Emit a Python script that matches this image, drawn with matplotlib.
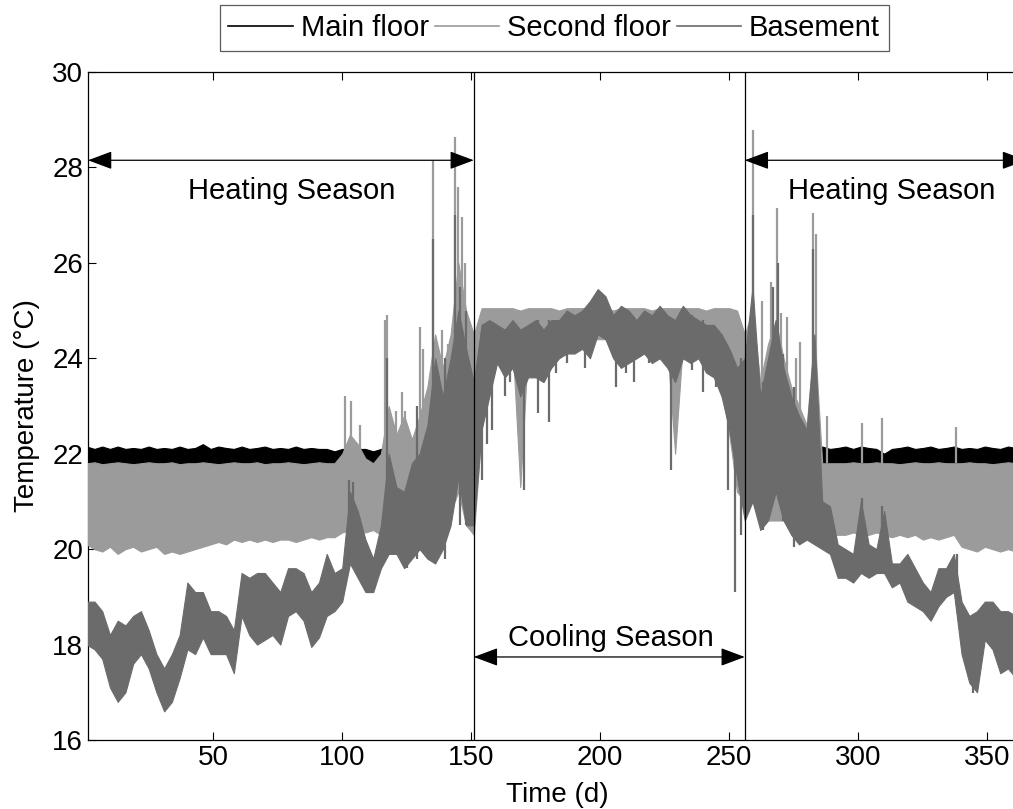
import numpy as np
import matplotlib
matplotlib.use("Agg")
import matplotlib.pyplot as plt
from matplotlib.lines import Line2D

plt.rcParams['font.family'] = ['Liberation Sans', 'DejaVu Sans']

# sample days (every 3 days) and daily envelope (low / high) of each zone, in deg C
days = list(range(1, 365, 3))

main_hi = [22.15, 22.1, 22.15, 22.1, 22.15, 22.1, 22.12, 22.1, 22.15, 22.1,
           22.12, 22.1, 22.15, 22.1, 22.12, 22.2, 22.1, 22.15, 22.12, 22.1,
           22.15, 22.1, 22.12, 22.15, 22.1, 22.12, 22.1, 22.15, 22.1, 22.12,
           22.1, 22.1, 22.05, 22.1, 22.1, 22.1, 22.1, 22.05, 22.1, 22.15,
           22.1, 22.15, 22.1, 22.1, 22.1, 22.1, 22.1, 22.1, 22.1, 22.1,
           22.1, 24.9, 24.9, 24.9, 24.9, 24.9, 24.9, 24.9, 24.9, 24.9,
           24.9, 24.9, 24.9, 24.9, 24.9, 24.9, 24.9, 24.9, 24.9, 24.9,
           24.9, 24.9, 24.9, 24.9, 24.9, 24.9, 24.9, 24.9, 24.9, 24.9,
           24.9, 24.9, 24.9, 24.9, 24.9, 22.1, 22.1, 22.1, 22.1, 22.1,
           22.1, 22.1, 22.1, 22.1, 22.1, 22.15, 22.1, 22.12, 22.15, 22.1,
           22.15, 22.12, 22.1, 22.0, 22.1, 22.12, 22.15, 22.1, 22.12, 22.15,
           22.1, 22.12, 22.15, 22.1, 22.12, 22.1, 22.15, 22.12, 22.1, 22.15,
           22.12, 22.1]
main_lo = [21.7, 21.72, 21.6, 21.7, 21.72, 21.7, 21.55, 21.7, 21.72, 21.7,
           21.6, 21.72, 21.7, 21.72, 21.7, 21.72, 21.7, 21.68, 21.72, 21.7,
           21.72, 21.7, 21.7, 21.72, 21.7, 21.7, 21.72, 21.7, 21.7, 21.72,
           21.68, 21.6, 21.6, 21.65, 21.7, 21.65, 21.6, 21.6, 21.65, 21.7,
           21.7, 21.7, 21.7, 21.7, 21.7, 21.7, 21.7, 21.7, 21.7, 21.7,
           21.7, 24.5, 24.5, 24.5, 24.5, 24.5, 24.5, 24.5, 24.5, 24.5,
           24.5, 24.5, 24.5, 24.5, 24.5, 24.5, 24.5, 24.5, 24.5, 24.5,
           24.5, 24.5, 24.5, 24.5, 24.5, 24.5, 24.5, 24.5, 24.5, 24.5,
           24.5, 24.5, 24.5, 24.5, 24.5, 21.7, 21.7, 21.7, 21.7, 21.7,
           21.7, 21.6, 21.65, 21.7, 21.7, 21.7, 21.72, 21.7, 21.7, 21.72,
           21.7, 21.68, 21.7, 21.6, 21.7, 21.72, 21.7, 21.7, 21.72, 21.7,
           21.7, 21.72, 21.7, 21.7, 21.72, 21.7, 21.7, 21.72, 21.7, 21.7,
           21.72, 21.7]

second_hi = [21.8, 21.82, 21.78, 21.8, 21.82, 21.8, 21.78, 21.8, 21.82, 21.8,
             21.8, 21.82, 21.78, 21.8, 21.8, 21.82, 21.8, 21.78, 21.8, 21.82,
             21.8, 21.8, 21.82, 21.78, 21.8, 21.8, 21.82, 21.8, 21.78, 21.8,
             21.82, 21.8, 21.8, 22.0, 22.4, 22.2, 21.9, 21.8, 22.0, 23.0,
             22.4, 22.8, 22.3, 22.8, 23.4, 24.5, 23.8, 24.5, 26.0, 25.0,
             24.5, 25.05, 25.05, 25.05, 25.05, 25.05, 25.0, 25.05, 25.05, 25.05,
             25.05, 25.0, 25.05, 25.05, 25.05, 25.05, 25.05, 25.05, 25.0, 25.05,
             25.05, 25.05, 25.05, 25.0, 25.05, 25.05, 25.05, 25.05, 25.05, 25.05,
             25.0, 25.05, 25.05, 25.05, 25.0, 24.5, 25.0, 23.5, 24.3, 24.8,
             24.0, 23.4, 23.0, 22.6, 24.5, 21.8, 21.8, 21.8, 21.8, 21.82,
             21.8, 21.8, 21.82, 21.8, 21.8, 21.78, 21.8, 21.82, 21.8, 21.8,
             21.82, 21.8, 21.8, 21.8, 21.82, 21.8, 21.8, 21.78, 21.8, 21.82,
             21.8, 21.8]
second_lo = [20.1, 20.0, 19.95, 20.05, 19.9, 20.0, 20.05, 19.95, 20.0, 20.05,
             19.9, 19.95, 19.9, 19.95, 20.0, 20.05, 20.1, 20.15, 20.1, 20.2,
             20.15, 20.2, 20.15, 20.2, 20.15, 20.2, 20.2, 20.15, 20.2, 20.25,
             20.2, 20.25, 20.25, 20.35, 20.4, 20.4, 20.35, 20.4, 20.3, 20.2,
             20.0, 20.4, 20.5, 20.6, 20.5, 19.8, 20.2, 20.8, 21.2, 20.5,
             20.3, 22.5, 24.2, 24.3, 24.2, 24.3, 21.3, 24.2, 24.3, 24.2,
             24.3, 24.3, 24.4, 24.4, 24.4, 24.4, 24.4, 24.4, 24.3, 24.2,
             24.3, 24.3, 24.4, 24.3, 24.3, 24.2, 22.0, 24.3, 24.2, 24.3,
             24.2, 24.1, 23.5, 22.4, 21.2, 21.0, 21.0, 20.8, 20.6, 20.6,
             20.6, 20.4, 20.4, 20.3, 20.3, 20.35, 20.3, 20.3, 20.3, 20.35,
             20.3, 20.3, 20.35, 20.3, 20.25, 20.3, 20.25, 20.3, 20.2, 20.25,
             20.2, 20.25, 20.3, 20.05, 20.0, 19.95, 20.05, 20.0, 19.95, 20.0,
             19.95, 20.0]

base_hi = [18.9, 18.9, 18.7, 18.2, 18.5, 18.4, 18.6, 18.7, 18.3, 17.8,
           17.5, 17.8, 18.2, 19.3, 19.1, 19.1, 18.7, 18.7, 18.6, 18.3,
           19.5, 19.4, 19.5, 19.5, 19.3, 19.1, 19.6, 19.6, 19.5, 19.1,
           19.3, 19.9, 19.5, 19.6, 21.2, 20.8, 20.2, 19.8, 20.5, 22.0,
           21.3, 21.2, 21.8, 22.0, 22.6, 24.0, 23.2, 24.0, 25.0, 24.2,
           23.5, 24.7, 24.8, 24.7, 24.6, 24.8, 24.6, 24.7, 24.8, 24.6,
           24.8, 24.8, 25.0, 24.9, 25.0, 25.2, 25.45, 25.3, 24.9, 25.1,
           25.0, 24.8, 25.0, 24.9, 25.1, 24.9, 24.8, 25.1, 24.9, 24.8,
           24.7, 24.7, 24.5, 24.2, 23.8, 24.0, 25.5, 23.2, 24.0, 24.8,
           23.8, 23.2, 22.8, 22.5, 24.5, 21.0, 20.9, 20.1, 20.0, 19.9,
           21.0, 20.1, 20.0, 20.8, 19.7, 19.7, 19.9, 19.6, 19.3, 19.1,
           19.6, 19.6, 19.9, 18.9, 18.6, 18.7, 18.9, 18.9, 18.7, 18.7,
           18.6, 18.7]
base_lo = [18.0, 17.9, 17.7, 17.1, 16.8, 17.0, 17.6, 17.8, 17.5, 17.0,
           16.6, 16.8, 17.3, 17.9, 17.8, 18.15, 17.8, 17.8, 17.8, 17.4,
           18.6, 18.2, 18.0, 18.1, 18.2, 18.0, 18.6, 18.7, 18.5, 17.95,
           18.15, 18.6, 18.7, 18.9, 19.7, 19.4, 19.1, 19.1, 19.6, 19.9,
           19.9, 19.6, 19.8, 20.0, 19.8, 19.7, 20.0, 20.5, 21.5, 20.5,
           20.5, 22.5, 23.2, 23.9, 23.6, 23.8, 23.2, 23.6, 23.6, 23.5,
           23.8, 24.0, 24.1, 24.1, 24.2, 24.0, 24.5, 24.4, 24.0, 23.8,
           23.9, 24.0, 24.1, 23.9, 24.0, 23.8, 23.5, 24.0, 23.9, 24.0,
           23.7, 23.6, 23.2, 22.5, 21.5, 20.6, 21.0, 20.4, 20.6, 21.2,
           20.6, 20.3, 20.1, 20.2, 20.1, 20.0, 19.9, 19.4, 19.4, 19.3,
           19.5, 19.4, 19.5, 19.5, 19.2, 19.3, 18.9, 18.8, 18.7, 18.5,
           18.8, 19.0, 19.1, 17.8, 17.2, 17.0, 18.1, 17.9, 17.4, 17.5,
           17.3, 17.2]

# short spikes of single days: day, bottom, top
second_spike_day = [101, 103.5, 107, 116.5, 117.5, 121, 123, 124.5, 130, 131.4,
                    135, 138.8, 141, 143.8, 145, 146.5, 147.5, 259.3, 262.5,
                    266, 268.6, 270, 272.5, 276, 277.5, 282.5, 283.5, 288,
                    301.5, 309.3, 338]
second_spike_bot = [21.8, 21.8, 21.8, 22.0, 22.0, 21.8, 21.8, 21.8, 22.0, 22.0,
                    22.0, 22.0, 22.0, 22.5, 22.5, 22.5, 22.5, 22.0, 21.5,
                    21.5, 22.0, 22.0, 22.0, 21.5, 21.5, 22.0, 22.0, 21.8,
                    21.8, 21.8, 21.8]
second_spike_top = [23.2, 23.1, 22.6, 24.8, 24.9, 22.9, 23.3, 22.9, 24.66, 24.2,
                    28.15, 24.6, 24.3, 28.64, 27.6, 26.96, 26.0, 28.78, 25.2,
                    25.6, 27.15, 24.95, 24.86, 24.0, 24.34, 27.05, 26.6, 22.78,
                    22.65, 22.75, 22.55]

base_spike_day = [102.5, 104, 117.5, 125, 129, 135, 140, 143.8, 145.5, 148,
                  154, 156, 158, 163, 165, 170.5, 176, 180, 183, 187, 194,
                  206, 210, 213, 219, 227.5, 235.7, 240, 245, 249.6, 252.3,
                  254.5, 259.3, 263, 267, 268.8, 271, 275, 282.5, 301.5, 309.3,
                  338.4, 344.6]
base_spike_bot = [19.7, 19.8, 20.0, 19.6, 19.8, 20.5, 19.8, 21.0, 20.5, 20.5,
                  21.45, 22.2, 22.5, 23.2, 23.5, 21.24, 22.85, 22.67, 23.7, 23.9,
                  23.8, 23.4, 23.7, 23.5, 23.9, 21.65, 23.75, 23.3, 23.4, 21.24, 19.1,
                  20.3, 21.5, 20.4, 21.3, 21.5, 20.6, 20.05, 20.5, 19.5, 19.5,
                  18.8, 16.98]
base_spike_top = [21.45, 21.4, 24.0, 21.1, 23.0, 26.5, 24.0, 27.0, 25.5, 25.0,
                  24.5, 24.6, 24.6, 24.6, 24.6, 24.6, 24.8, 24.8, 24.8, 24.8,
                  24.8, 24.8, 24.8, 24.8, 24.8, 24.8, 24.9, 24.8, 24.6, 24.0, 23.5,
                  24.0, 27.0, 23.5, 25.5, 26.0, 24.1, 23.4, 26.3, 21.07, 20.9,
                  19.9, 18.5]

zones = ['Main floor', 'Second floor', 'Basement']
colors = ['#000000', '#9b9b9b', '#6b6b6b']

season_split = [151, 256]
season_y = 28.15
cooling_y = 17.74

fig = plt.figure(figsize=(10.13, 8.09), dpi=100)
ax = fig.add_axes([0.0869, 0.0853, 0.926, 0.8257])

ax.fill_between(days, main_lo, main_hi, color=colors[0], lw=0.8, zorder=2)
ax.fill_between(days, second_lo, second_hi, color=colors[1], lw=0.8, zorder=3)
ax.vlines(second_spike_day, second_spike_bot, second_spike_top,
          color=colors[1], lw=1.6, zorder=3)
ax.fill_between(days, base_lo, base_hi, color=colors[2], lw=0.8, zorder=4)
ax.vlines(base_spike_day, base_spike_bot, base_spike_top,
          color=colors[2], lw=1.6, zorder=4)

for s in season_split:
    ax.axvline(s, color='k', lw=0.9, zorder=5)

arrow = dict(arrowstyle='<|-|>,head_length=0.75,head_width=0.28', color='k',
             lw=0.9, shrinkA=0, shrinkB=0, mutation_scale=20)
ax.annotate('', xy=(1.5, season_y), xytext=(season_split[0], season_y),
            arrowprops=arrow, zorder=6)
ax.annotate('', xy=(season_split[1], season_y), xytext=(365, season_y),
            arrowprops=arrow, zorder=6, annotation_clip=False)
ax.annotate('', xy=(season_split[0], cooling_y), xytext=(season_split[1], cooling_y),
            arrowprops=arrow, zorder=6)
ax.text(80.5, 27.5, 'Heating Season', fontsize=21, ha='center', va='center')
ax.text(313, 27.5, 'Heating Season', fontsize=21, ha='center', va='center')
ax.text(204, 18.13, 'Cooling Season', fontsize=21, ha='center', va='center')

ax.set_xlim(1.5, 365)
ax.set_ylim(16, 30)
ax.set_xticks(range(50, 351, 50))
ax.set_yticks(range(16, 31, 2))
ax.tick_params(direction='in', length=6, top=True, right=True, labelsize=20)
ax.set_xlabel('Time (d)', fontsize=20, labelpad=8)
ax.set_ylabel('Temperature (\u00b0C)', fontsize=20, labelpad=9)
for sp in ax.spines.values():
    sp.set_linewidth(0.9)

handles = [Line2D([], [], color=c, lw=1.2) for c in colors]
leg = ax.legend(handles, zones, loc='lower center', bbox_to_anchor=(0.497, 1.032),
                ncol=3, fontsize=21, frameon=True, fancybox=False,
                handlelength=2.2, handletextpad=0.28, columnspacing=0.2,
                borderpad=0.3, borderaxespad=0)
leg.get_frame().set_edgecolor('#333333')
leg.get_frame().set_linewidth(0.9)

fig.savefig('out.png', dpi=100)
